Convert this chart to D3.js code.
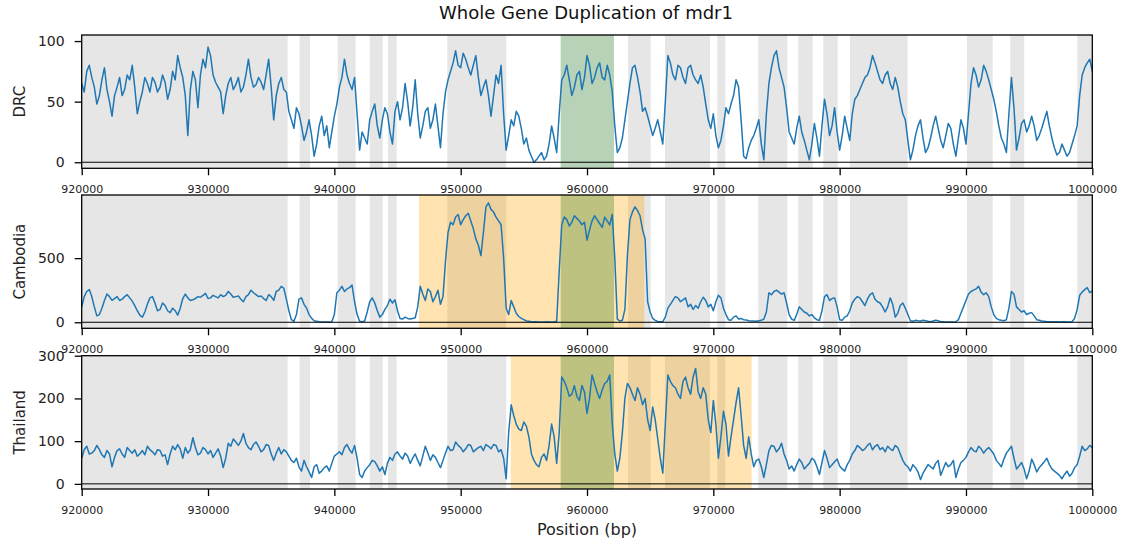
<!DOCTYPE html>
<html>
<head>
<meta charset="utf-8">
<script src="https://cdn.jsdelivr.net/npm/d3@7/dist/d3.min.js"></script>
<style>
  body { margin: 0; background: #fff; }
  svg { font-family: "DejaVu Sans", sans-serif; }
</style>
</head>
<body>
<div id="chart"></div>
<script>
// coverage read in 400 bp bins from 920000, plus the half-bin values (bin start + 200)
const binStart = 920000;
const binSize = 400;

const drc = [
  65,75,70,48,68,60,38,62,55,72,80,40,58,65,70,58,72,52,75,88,
  70,22,75,45,85,95,72,62,40,65,60,70,62,85,62,70,60,85,35,65,
  60,42,28,40,18,35,5,30,22,12,38,62,85,65,70,10,20,35,48,20,
  45,25,42,35,65,30,68,20,42,28,48,12,58,75,92,78,85,72,88,55,
  68,38,72,80,10,35,42,28,20,5,2,8,5,30,8,68,80,55,72,60,
  88,65,78,70,80,58,8,20,50,78,70,42,38,22,35,15,88,72,80,70,
  78,72,65,62,35,40,12,30,40,55,62,5,12,22,35,2,65,88,78,62,
  25,15,38,18,2,32,5,52,22,45,10,38,18,52,60,70,78,82,68,72,
  65,70,50,35,2,22,35,8,20,38,18,22,28,5,35,15,65,72,68,75,
  60,42,20,8,70,10,32,25,38,18,28,42,20,6,15,5,15,30,72,82,
  75
];
const drcMid = [
  58,80,62,55,78,50,55,70,60,68, 62,50,70,58,66,62,66,60,68,78,
  55,60,68,72,78,88,66,58,55,70, 64,58,72,70,64,66,72,62,55,70,
  58,35,45,30,25,22,15,38,30,25, 48,70,72,60,40,25,15,42,30,35,
  40,15,50,45,50,45,40,30,45,35, 30,40,68,82,80,90,78,80,70,62,
  55,55,65,40,22,30,38,15,10,0, 5,2,15,20,40,72,68,62,75,70,
  80,70,82,68,72,30,12,35,65,80, 58,45,30,28,25,50,82,68,78,65,
  80,68,72,48,28,22,18,45,48,68, 35,3,18,28,15,40,78,92,70,45,
  20,28,25,10,15,20,30,40,30,25, 22,28,40,55,65,72,88,75,65,75,
  60,62,40,18,10,30,20,12,30,28, 12,32,15,20,28,40,78,62,80,68,
  52,30,15,40,45,20,35,30,30,22, 35,30,12,8,10,8,22,55,78,85
];

const cambodia = [
  120,240,200,50,110,220,170,200,180,215,165,90,40,140,200,90,150,90,110,55,
  185,190,175,200,210,185,210,190,200,240,195,205,160,215,230,200,185,215,170,250,
  265,90,8,180,140,60,12,5,2,2,60,250,240,270,160,8,10,160,150,40,
  100,180,175,30,40,25,35,280,170,240,200,140,480,780,820,760,830,790,650,520,
  900,880,820,760,110,170,70,30,10,5,4,3,4,3,8,760,800,780,810,760,
  640,790,800,740,790,840,25,15,520,860,870,720,160,30,6,5,110,170,190,175,
  120,100,110,195,120,90,210,110,20,40,25,20,12,10,12,25,230,240,235,230,
  60,15,120,80,50,35,15,200,170,190,20,40,90,180,190,130,215,180,150,80,
  190,40,130,110,12,15,10,12,5,15,5,3,3,4,70,170,240,260,235,230,
  120,30,15,20,240,120,80,60,75,20,10,5,5,4,4,3,5,100,235,270,
  245
];
const cambodiaMid = [
  200,255,120,60,170,200,185,170,200,190, 130,55,80,190,150,100,130,75,90,110,
  220,170,185,195,225,190,200,215,210,220, 200,180,200,250,215,205,170,200,240,280,
  180,20,60,190,110,30,8,3,2,5, 230,280,260,290,60,5,80,190,90,60,
  130,150,90,25,30,30,120,220,260,160, 250,200,700,760,840,800,850,730,600,700,
  930,860,790,500,60,120,45,20,8,5, 3,3,3,4,400,820,750,830,790,780,
  720,830,770,820,760,500,10,100,800,900, 830,650,80,15,5,40,140,200,160,190,
  140,130,160,170,140,160,190,60,15,50, 30,18,10,8,15,80,215,250,220,150,
  25,60,100,70,60,20,90,215,185,120, 15,50,150,200,160,180,230,160,120,120,
  140,70,150,60,8,12,15,8,10,12, 4,3,3,20,120,220,250,280,215,200,
  60,20,12,110,220,100,90,70,50,15, 8,4,5,3,4,3,30,210,255,230
];

const thailand = [
  60,88,72,90,68,78,40,78,70,85,72,65,78,88,75,80,65,45,88,92,
  60,72,108,68,85,70,62,82,38,95,105,90,118,85,92,88,80,90,55,85,
  80,65,50,40,55,28,40,25,38,30,65,75,85,80,90,22,30,45,52,30,
  22,62,70,65,72,48,70,42,88,55,62,38,72,78,98,85,82,90,80,88,
  92,82,90,80,12,185,140,125,135,70,45,62,55,140,48,250,225,210,205,230,
  165,255,215,220,240,140,30,120,235,210,225,185,150,180,105,25,255,230,210,240,
  225,250,215,225,150,195,60,170,65,150,225,90,110,40,58,15,78,88,82,70,
  35,30,58,35,48,55,22,78,38,52,42,30,55,78,85,82,95,88,80,75,
  82,90,70,45,30,38,10,35,40,48,20,50,45,15,50,62,85,75,82,80,
  78,55,40,72,88,35,50,12,58,28,45,60,35,25,12,30,25,45,88,82,
  85
];
const thailandMid = [
  80,70,78,80,62,70,62,82,62,78, 80,70,68,80,68,78,68,70,80,82,
  85,80,85,72,80,78,72,65,60,88, 98,100,95,80,98,75,92,70,72,70,
  75,55,60,30,40,15,45,30,42,48, 70,68,92,72,60,15,38,55,42,40,
  48,55,75,58,65,60,55,65,72,68, 50,55,88,80,90,75,92,75,85,78,
  88,92,75,60,120,160,128,145,110,55, 40,70,90,110,120,240,205,230,195,215,
  200,235,200,235,255,70,60,200,225,195, 210,200,125,150,60,140,240,225,200,250,
  210,270,200,210,120,140,110,140,110,190, 160,60,70,55,40,45,90,75,95,55,
  42,45,50,42,60,40,50,60,45,58, 35,45,70,90,78,90,80,92,85,88,
  78,85,55,40,45,28,25,45,35,55, 35,40,55,35,55,75,78,88,72,85,
  70,48,58,80,60,42,35,30,45,38, 52,45,30,20,22,18,38,65,78,90
];

// gene annotations (bp)
const geneStarts = [918000, 937256, 940264, 942800, 944246, 948940, 957916, 963245, 966172, 970313,
                    973560, 976726, 978705, 980816, 990080, 993507, 998811];
const geneEnds   = [936307, 938070, 941690, 943826, 944935, 953612, 962136, 965041, 969734, 970946,
                    975856, 977866, 979845, 985381, 992113, 994615, 1002000];
const mdr1 = [957916, 962136];

const panelNames = ["DRC", "Cambodia", "Thailand"];
const panelBins = [drc, cambodia, thailand];
const panelMids = [drcMid, cambodiaMid, thailandMid];
const panelDomains = [[-5, 105], [-47, 992], [-12, 300]];
const panelTicks = [[0, 50, 100], [0, 500], [0, 100, 200, 300]];
const dupRegions = [null, [946700, 964535], [953958, 973036]];
const xTicks = [920000, 930000, 940000, 950000, 960000, 970000, 980000, 990000, 1000000];

const width = 1128, height = 544;
const left = 81.7, right = 1092.3;
const panelTops = [35, 195, 355.7];
const panelH = 133.3;

const svg = d3.select("#chart").append("svg")
  .attr("width", width)
  .attr("height", height);

const x = d3.scaleLinear().domain([920000, 1000000]).range([left, right]);

//put bin values and half-bin values in position order
function toPoints(bins, mids) {
  let pts = [];
  bins.forEach(function(v, i) {
    pts.push({ pos: binStart + i * binSize, v: v });
    if (i < mids.length) pts.push({ pos: binStart + i * binSize + binSize / 2, v: mids[i] });
  });
  return pts;
}

panelNames.forEach(function(name, p) {
  const top = panelTops[p];
  const bottom = top + panelH;
  const y = d3.scaleLinear().domain(panelDomains[p]).range([bottom, top]);
  const g = svg.append("g");

  g.append("clipPath").attr("id", "clip" + p)
    .append("rect")
    .attr("x", left).attr("y", top)
    .attr("width", right - left).attr("height", panelH);

  const inner = g.append("g").attr("clip-path", "url(#clip" + p + ")");

  //gene spans in gray
  inner.selectAll("rect.gene")
    .data(d3.zip(geneStarts, geneEnds))
    .enter()
    .append("rect")
      .attr("class", "gene")
      .attr("x", d => x(d[0]))
      .attr("width", d => x(d[1]) - x(d[0]))
      .attr("y", top)
      .attr("height", panelH)
      .attr("fill", "gray")
      .attr("fill-opacity", 0.2);

  //duplicated region in orange
  if (dupRegions[p]) {
    inner.append("rect")
      .attr("x", x(dupRegions[p][0]))
      .attr("width", x(dupRegions[p][1]) - x(dupRegions[p][0]))
      .attr("y", top)
      .attr("height", panelH)
      .attr("fill", "orange")
      .attr("fill-opacity", 0.3);
  }

  //mdr1 in green
  inner.append("rect")
    .attr("x", x(mdr1[0]))
    .attr("width", x(mdr1[1]) - x(mdr1[0]))
    .attr("y", top)
    .attr("height", panelH)
    .attr("fill", "green")
    .attr("fill-opacity", 0.2);

  const line = d3.line()
    .x(d => x(d.pos))
    .y(d => y(d.v));

  inner.append("path")
    .datum(toPoints(panelBins[p], panelMids[p]))
    .attr("d", line)
    .attr("fill", "none")
    .attr("stroke", "#1f77b4")
    .attr("stroke-width", 1.5)
    .attr("stroke-linejoin", "round");

  //zero line
  g.append("line")
    .attr("x1", left).attr("x2", right)
    .attr("y1", y(0)).attr("y2", y(0))
    .attr("stroke", "black")
    .attr("stroke-width", 1);

  //frame
  g.append("rect")
    .attr("x", left).attr("y", top)
    .attr("width", right - left).attr("height", panelH)
    .attr("fill", "none")
    .attr("stroke", "black")
    .attr("stroke-width", 1.3);

  const xAxis = g.append("g")
    .attr("transform", "translate(0," + bottom + ")")
    .call(d3.axisBottom(x).tickValues(xTicks).tickFormat(d3.format("d")).tickSize(7).tickPadding(10));
  xAxis.select(".domain").remove();
  xAxis.selectAll("line").attr("stroke-width", 1.3);
  xAxis.selectAll("text").attr("font-size", "11px").attr("fill", "#222")
    .style("font-family", "DejaVu Sans");

  const yAxis = g.append("g")
    .attr("transform", "translate(" + left + ",0)")
    .call(d3.axisLeft(y).tickValues(panelTicks[p]).tickSize(7).tickPadding(10));
  yAxis.select(".domain").remove();
  yAxis.selectAll("line").attr("stroke-width", 1.3);
  yAxis.selectAll("text").attr("font-size", "14px").attr("fill", "#222")
    .style("font-family", "DejaVu Sans");

  svg.append("text")
    .attr("transform", "translate(25," + (top + panelH / 2) + ") rotate(-90)")
    .attr("text-anchor", "middle")
    .attr("font-size", "15px")
    .attr("fill", "#222")
    .text(name);
});

svg.append("text")
  .attr("x", 586)
  .attr("y", 19)
  .attr("text-anchor", "middle")
  .attr("font-size", "18px")
  .attr("fill", "#111")
  .text("Whole Gene Duplication of mdr1");

svg.append("text")
  .attr("x", 587)
  .attr("y", 535)
  .attr("text-anchor", "middle")
  .attr("font-size", "16px")
  .attr("fill", "#222")
  .text("Position (bp)");
</script>
</body>
</html>
